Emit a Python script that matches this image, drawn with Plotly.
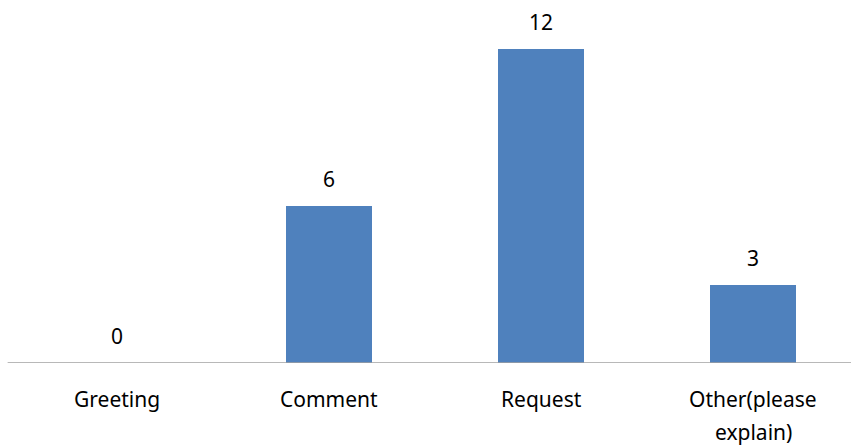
import plotly.graph_objects as go

categories = ["Greeting", "Comment", "Request", "Other(please\nexplain)"]
counts = [0, 6, 12, 3]

bar_color = "#4F81BD"
font_family = "Noto Sans, Liberation Sans, sans-serif"

x_keys = list(range(len(categories)))

fig = go.Figure(
    go.Bar(
        x=x_keys,
        y=counts,
        width=0.405,
        marker=dict(color=bar_color, line=dict(width=0)),
        hoverinfo="skip",
    )
)

annotations = []
# value labels above each bar
for xi, v in zip(x_keys, counts):
    annotations.append(dict(
        x=xi, y=v, xref="x", yref="y", text=str(v), showarrow=False,
        yanchor="middle", yshift=27,
        font=dict(family=font_family, size=21, color="#000000"),
    ))
# category labels under the axis, one annotation per line
for xi, cat in zip(x_keys, categories):
    for li, line in enumerate(cat.split("\n")):
        annotations.append(dict(
            x=xi, y=0, xref="x", yref="y", text=line, showarrow=False,
            yanchor="middle", yshift=-36 - 33 * li,
            font=dict(family=font_family, size=21, color="#000000"),
        ))

fig.update_layout(
    width=851,
    height=445,
    margin=dict(l=11, r=0, t=0, b=82),
    paper_bgcolor="white",
    plot_bgcolor="white",
    showlegend=False,
    bargap=0,
    annotations=annotations,
    xaxis=dict(
        range=[-0.5, -0.5 + 840 / 212],
        showticklabels=False,
        showgrid=False,
        zeroline=False,
        showline=False,
        ticks="",
        fixedrange=True,
    ),
    yaxis=dict(
        range=[0, 13.89],
        visible=False,
        showgrid=False,
        zeroline=False,
        fixedrange=True,
    ),
    shapes=[dict(
        type="line", xref="paper", yref="y", x0=-0.004, x1=1, y0=0, y1=0,
        line=dict(color="#A0A0A0", width=1.5),
    )],
)

fig.write_html("out.html")
